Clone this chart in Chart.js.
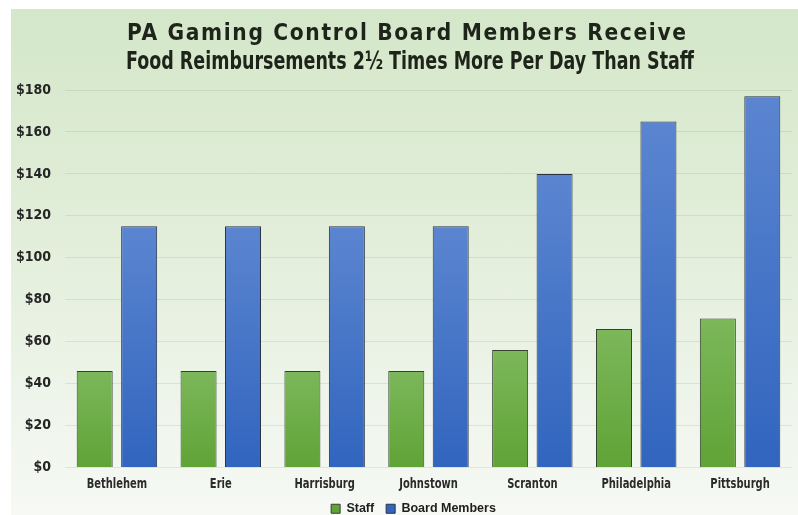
<!DOCTYPE html>
<html>
<head>
<meta charset="utf-8">
<script src="https://cdn.jsdelivr.net/npm/chart.js@4"></script>
<style>
  html, body { margin: 0; padding: 0; background: #ffffff; overflow: hidden; }
  #wrap {
    position: absolute; left: 11px; top: 9px; width: 787px; height: 506px; overflow: hidden;
    background: linear-gradient(to bottom, #d4e7c9 0%, #e2eeda 45%, #f1f6ee 85%, #f6f9f4 100%);
  }
  canvas { display: block; }
</style>
</head>
<body>
<div id="wrap"><canvas id="c" width="797" height="516"></canvas></div>
<script>
const categories = ["Bethlehem", "Erie", "Harrisburg", "Johnstown", "Scranton", "Philadelphia", "Pittsburgh"];
const staffValues = [46, 46, 46, 46, 56, 66, 71];
const boardValues = [115, 115, 115, 115, 140, 165, 177];
const seriesNames = ["Staff", "Board Members"];
const titleLines = ["PA Gaming Control Board Members Receive", "Food Reimbursements 2\u00BD Times More Per Day Than Staff"];
const yTickStep = 20;
const yMax = 180;

const condFont = "'DejaVu Sans Condensed', 'DejaVu Sans', sans-serif";

function barGradient(topColor, bottomColor, fallback) {
  return function (ctx) {
    const chart = ctx.chart;
    const area = chart.chartArea;
    if (!area || !ctx.parsed) return fallback;
    const y = chart.scales.y;
    const top = y.getPixelForValue(ctx.parsed.y);
    const bottom = y.getPixelForValue(0);
    if (!isFinite(top) || !isFinite(bottom) || bottom - top < 1) return fallback;
    const g = chart.ctx.createLinearGradient(0, top, 0, bottom);
    g.addColorStop(0, topColor);
    g.addColorStop(1, bottomColor);
    return g;
  };
}

// Nudges the legend box a little to the right, as in the original.
const legendNudge = {
  id: 'legendNudge',
  afterLayout(chart) {
    if (chart.legend) {
      chart.legend.left += 12;
      chart.legend.right += 12;
    }
  }
};

// Draws the two-line heading (tracked first line, condensed second line)
// and the condensed category labels under the x axis.
const textPlugin = {
  id: 'condensedText',
  afterDraw(chart) {
    const ctx = chart.ctx;
    const cx = chart.width / 2 - 3;
    ctx.save();
    ctx.fillStyle = '#1e2419';
    ctx.textBaseline = 'alphabetic';

    // line 1: tracked
    ctx.font = "bold 22.5px " + condFont;
    const t1 = titleLines[0];
    const w1 = ctx.measureText(t1).width;
    const target1 = 559;
    const ls = (target1 - w1) / (t1.length - 1);
    ctx.letterSpacing = ls + 'px';
    ctx.textAlign = 'left';
    ctx.fillText(t1, cx - target1 / 2, 31);
    ctx.letterSpacing = '0px';

    // line 2: condensed
    ctx.font = "bold 24px " + condFont;
    const t2 = titleLines[1];
    const w2 = ctx.measureText(t2).width;
    const s2 = 568 / w2;
    ctx.save();
    ctx.translate(cx + 3.5, 60);
    ctx.scale(s2, 1);
    ctx.textAlign = 'center';
    ctx.fillText(t2, 0, 0);
    ctx.restore();

    // x category labels
    const xs = chart.scales.x;
    ctx.font = "bold 14px " + condFont;
    ctx.fillStyle = '#2b2b2b';
    ctx.textAlign = 'center';
    ctx.textBaseline = 'middle';
    xs.ticks.forEach(function (tk, i) {
      const px = xs.getPixelForTick(i);
      ctx.save();
      ctx.translate(px, chart.chartArea.bottom + 17);
      ctx.scale(0.79, 1);
      ctx.fillText(xs.getLabelForValue(tk.value), 0, 0);
      ctx.restore();
    });
    ctx.restore();
  }
};

new Chart(document.getElementById('c'), {
  type: 'bar',
  data: {
    labels: categories,
    datasets: [
      {
        label: seriesNames[0],
        data: staffValues,
        backgroundColor: barGradient('#7cb75a', '#60a336', '#70ae48'),
        borderColor: '#34422e',
        borderWidth: 1
      },
      {
        label: seriesNames[1],
        data: boardValues,
        backgroundColor: barGradient('#5b85d0', '#3165be', '#4575c8'),
        borderColor: '#2a3346',
        borderWidth: 1
      }
    ]
  },
  plugins: [legendNudge, textPlugin],
  options: {
    responsive: false,
    animation: false,
    devicePixelRatio: 1,
    categoryPercentage: 0.856,
    barPercentage: 0.81,
    layout: { padding: { left: 0, right: 16, top: 81, bottom: 0 } },
    plugins: {
      title: { display: false },
      legend: {
        position: 'bottom',
        labels: {
          boxWidth: 9,
          boxHeight: 9,
          padding: 12,
          color: '#1e1e1e',
          font: { family: "'Liberation Sans', Arial, sans-serif", size: 12.5, weight: 'bold' }
        }
      },
      tooltip: { enabled: false }
    },
    scales: {
      x: {
        grid: { display: false },
        border: { display: false },
        ticks: {
          color: 'rgba(0,0,0,0)',
          padding: 3,
          font: { family: condFont, size: 7.5, weight: 'bold' }
        }
      },
      y: {
        min: 0,
        max: yMax,
        afterFit: function (s) { s.width = 54; },
        border: { display: false },
        grid: { color: 'rgba(80,100,70,0.12)', drawTicks: false, lineWidth: 1 },
        ticks: {
          stepSize: yTickStep,
          padding: 14,
          color: '#252525',
          font: { family: condFont, size: 14, weight: 'bold' },
          callback: function (v) { return '$' + v; }
        }
      }
    }
  }
});
</script>
</body>
</html>
